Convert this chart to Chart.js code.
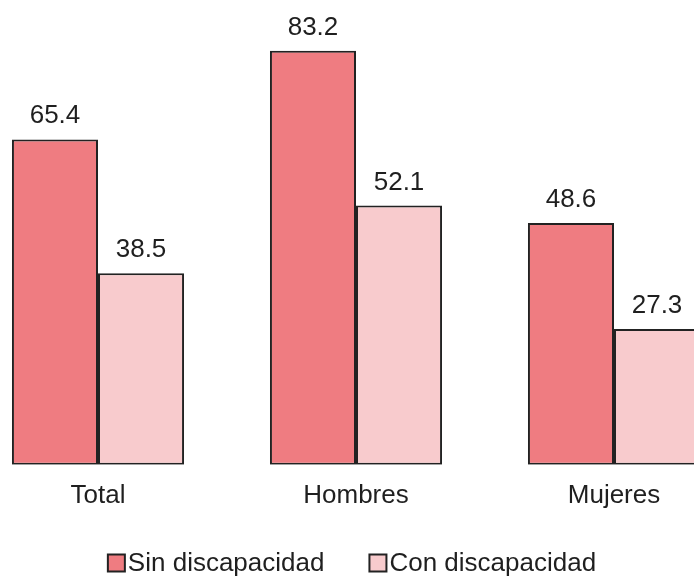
<!DOCTYPE html>
<html>
<head>
<meta charset="utf-8">
<script src="https://cdn.jsdelivr.net/npm/chart.js@4/dist/chart.umd.min.js"></script>
<style>
  html, body { margin: 0; padding: 0; background: #fff; overflow: hidden; }
  body { width: 694px; height: 576px; position: relative; }
  #wrap { position: absolute; left: -31px; top: 0; width: 774px; height: 576px; }
</style>
</head>
<body>
<div id="wrap"><canvas id="chart"></canvas></div>
<script>
const categories = ['Total', 'Hombres', 'Mujeres'];
const seriesNames = ['Sin discapacidad', 'Con discapacidad'];
const sinDiscapacidad = [65.4, 83.2, 48.6];
const conDiscapacidad = [38.5, 52.1, 27.3];

const FONT = "'Liberation Sans', Arial, sans-serif";
const TEXT_COLOR = '#1f1f1f';

// value labels above each bar
const valueLabels = {
    id: 'valueLabels',
    afterDatasetsDraw(chart) {
        const c = chart.ctx;
        c.save();
        c.font = '26px ' + FONT;
        c.fillStyle = TEXT_COLOR;
        c.textAlign = 'center';
        c.textBaseline = 'alphabetic';
        chart.data.datasets.forEach((ds, i) => {
            chart.getDatasetMeta(i).data.forEach((bar, j) => {
                c.fillText(ds.data[j].toFixed(1), bar.x, bar.y - 16);
            });
        });
        c.restore();
    }
};

// legend drawn by hand so the box/text gaps match
const bottomLegend = {
    id: 'bottomLegend',
    afterDraw(chart) {
        const c = chart.ctx;
        const box = 17, gap = 3, itemGap = 45;
        c.save();
        c.font = '26px ' + FONT;
        const widths = chart.data.datasets.map(ds => c.measureText(ds.label).width);
        let total = 0;
        widths.forEach((w, i) => { total += box + gap + w + (i < widths.length - 1 ? itemGap : 0); });
        let x = chart.width / 2 - 4 - total / 2;
        const y = 563;
        chart.data.datasets.forEach((ds, i) => {
            c.fillStyle = ds.backgroundColor;
            c.fillRect(x, y - box / 2, box, box);
            c.strokeStyle = '#222';
            c.lineWidth = 2;
            c.strokeRect(x, y - box / 2, box, box);
            c.fillStyle = TEXT_COLOR;
            c.textBaseline = 'middle';
            c.fillText(ds.label, x + box + gap, y + 1);
            x += box + gap + widths[i] + itemGap;
        });
        c.restore();
    }
};

const ctx = document.getElementById('chart').getContext('2d');
const chart = new Chart(ctx, {
    type: 'bar',
    data: {
        labels: categories,
        datasets: [{
            label: seriesNames[0],
            data: sinDiscapacidad,
            backgroundColor: '#EF7C81',
            borderColor: '#222222',
            borderWidth: 2,
            borderSkipped: false
        }, {
            label: seriesNames[1],
            data: conDiscapacidad,
            backgroundColor: '#F8CBCD',
            borderColor: '#222222',
            borderWidth: 2,
            borderSkipped: false
        }]
    },
    options: {
        responsive: true,
        maintainAspectRatio: false,
        animation: false,
        layout: { padding: { top: 17, bottom: 50, left: 0, right: 0 } },
        datasets: { bar: { categoryPercentage: 0.667, barPercentage: 1.0 } },
        plugins: {
            legend: { display: false },
            tooltip: { enabled: false }
        },
        scales: {
            x: {
                grid: { display: false, drawTicks: false },
                border: { display: false },
                ticks: {
                    padding: 15,
                    color: TEXT_COLOR,
                    font: { family: FONT, size: 26 }
                }
            },
            y: {
                display: false,
                min: 0,
                max: 90
            }
        }
    },
    plugins: [valueLabels, bottomLegend]
});
</script>
</body>
</html>
